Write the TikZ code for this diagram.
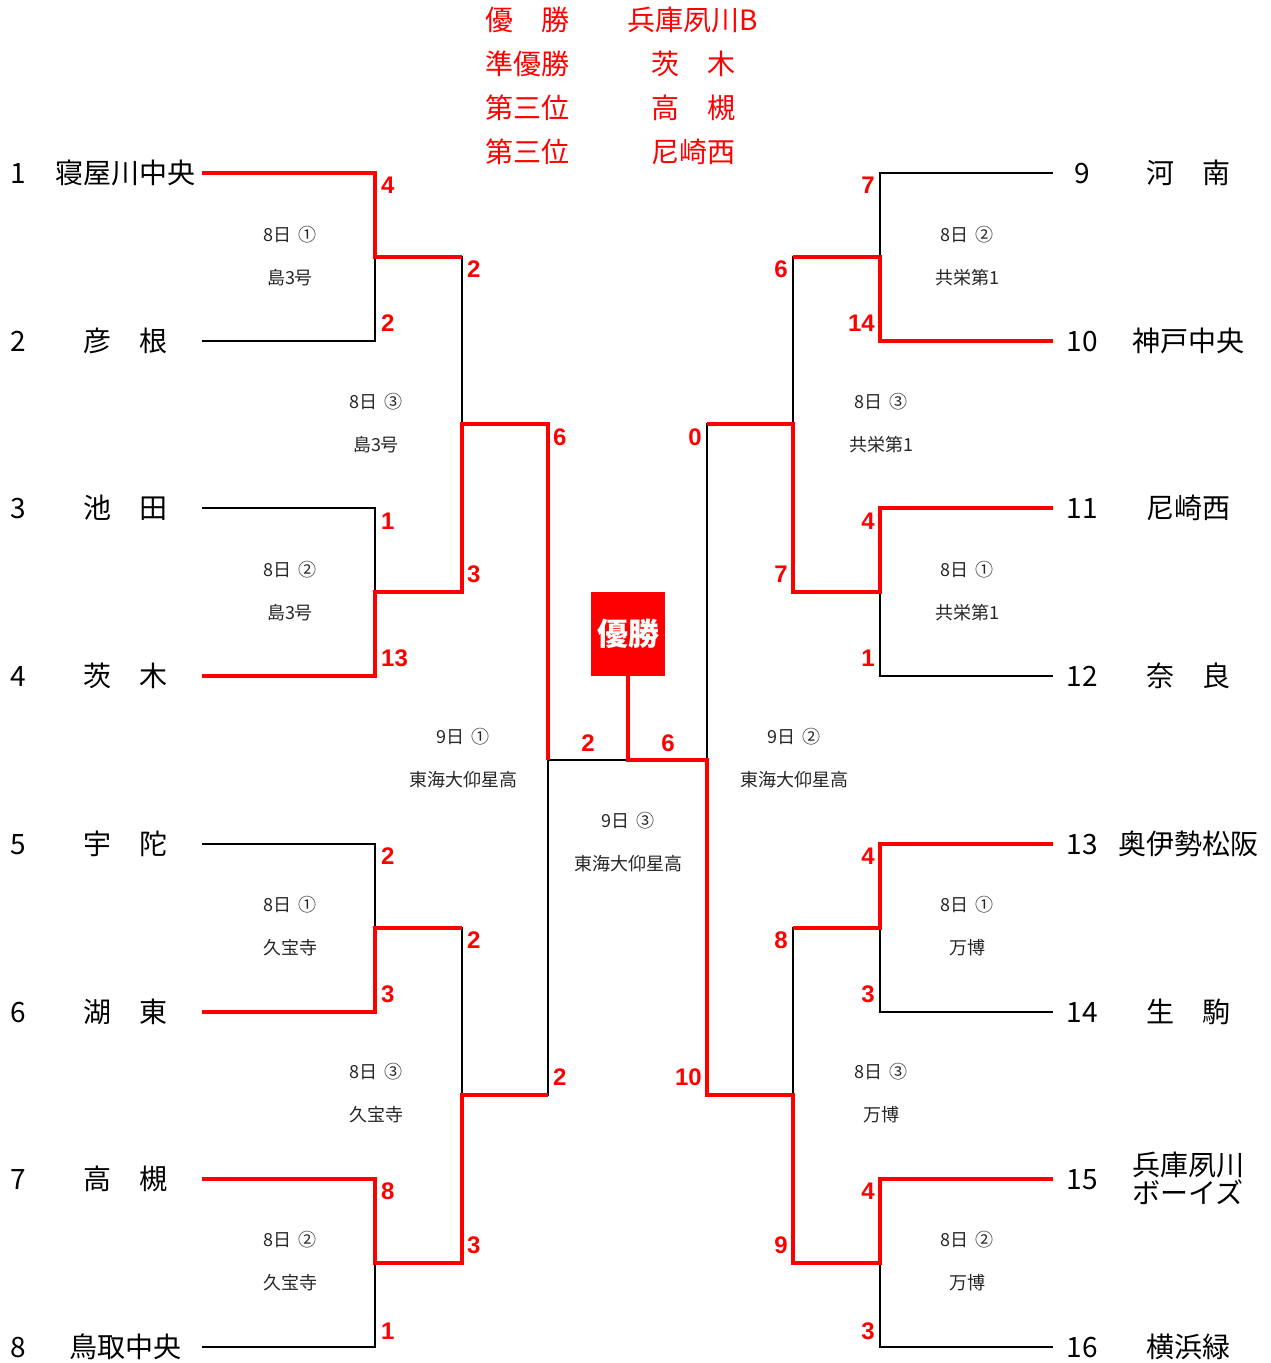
\documentclass[tikz,border=0pt]{standalone}
\usepackage{fontspec}
\setmainfont{Noto Sans CJK JP}
\newfontfamily\scoreFont{Liberation Sans}
\usetikzlibrary{positioning}
\definecolor{winColor}{RGB}{255,0,0}
\tikzstyle{bracket} = [x = 1pt, y = -1pt]
\tikzstyle{loserLine} = [color=black, line width=2pt]
\tikzstyle{winnerLine} = [color=winColor, line width=3.6pt]
\tikzstyle{teamText} = [font=\fontsize{28}{28}\selectfont, inner sep=0, text height=24.6pt, text depth=3.4pt]
\tikzstyle{resultText} = [teamText, color=winColor]
\tikzstyle{matchText} = [font=\fontsize{18}{18}\selectfont, color=black!85, inner sep=0, text height=15.8pt, text depth=2.2pt]
\tikzstyle{scoreText} = [font=\scoreFont\bfseries\fontsize{24}{24}\selectfont, color=winColor, inner sep=0, text height=17.2pt, text depth=0pt]
\tikzstyle{championBox} = [fill=winColor, text=white, inner sep=0, minimum width=74pt, minimum height=84pt, font=\bfseries\fontsize{31}{31}\selectfont]
\newcommand{\teamLeft}[3]{
  \node [teamText] (number#1) at (18,#2) {#1};
  \node [teamText] (team#1) at (125,#2) {#3};
  \coordinate (end#1) at (202,#2);
}
\newcommand{\teamRight}[3]{
  \node [teamText] (number#1) at (1082,#2) {#1};
  \node [teamText] (team#1) at (1188,#2) {#3};
  \coordinate (end#1) at (1053,#2);
}
\newcommand{\matchLabel}[5]{
  \node [matchText] (day#1) at (#2,#3) {#4};
  \node [matchText] (venue#1) at (#2,#3+43) {#5};
}
\newcommand{\dayNo}[2]{#1日\hspace{.35em}#2}
\newcommand{\scoreLeft}[4]{\node [scoreText, anchor=west] (score#1) at (#2,#3) {#4};}
\newcommand{\scoreRight}[4]{\node [scoreText, anchor=east] (score#1) at (#2,#3) {#4};}

\begin{document}
\begin{tikzpicture}[bracket]
  \useasboundingbox (0,0) rectangle (1270,1363);

  % final standings
  \node [resultText] (titleFirst) at (527,20) {優　勝};
  \node [resultText] (titleSecond) at (527,64) {準優勝};
  \node [resultText] (titleThirdA) at (527,108) {第三位};
  \node [resultText] (titleThirdB) at (527,152) {第三位};
  \node [resultText] (rankFirst) at (693,20) {兵庫夙川B};
  \node [resultText] (rankSecond) at (693,64) {茨　木};
  \node [resultText] (rankThirdA) at (693,108) {高　槻};
  \node [resultText] (rankThirdB) at (693,152) {尼崎西};

  % teams
  \teamLeft{1}{173}{寝屋川中央}
  \teamLeft{2}{341}{彦　根}
  \teamLeft{3}{508}{池　田}
  \teamLeft{4}{676}{茨　木}
  \teamLeft{5}{844}{宇　陀}
  \teamLeft{6}{1012}{湖　東}
  \teamLeft{7}{1179}{高　槻}
  \teamLeft{8}{1347}{鳥取中央}
  \teamRight{9}{173}{河　南}
  \teamRight{10}{341}{神戸中央}
  \teamRight{11}{508}{尼崎西}
  \teamRight{12}{676}{奈　良}
  \teamRight{13}{844}{奥伊勢松阪}
  \teamRight{14}{1012}{生　駒}
  \node [teamText] (number15) at (1082,1179) {15};
  \node [teamText] (team15) at (1188,1165) {兵庫夙川};
  \node [teamText] (team15b) at (1188,1193) {ボーイズ};
  \coordinate (end15) at (1053,1179);
  \teamRight{16}{1347}{横浜緑}

  % junctions
  \coordinate (q1) at (375,257);
  \coordinate (q2) at (375,592);
  \coordinate (q3) at (375,928);
  \coordinate (q4) at (375,1263);
  \coordinate (s1) at (462,424);
  \coordinate (s2) at (462,1095);
  \coordinate (f1) at (548,760);
  \coordinate (q5) at (880,257);
  \coordinate (q6) at (880,592);
  \coordinate (q7) at (880,928);
  \coordinate (q8) at (880,1263);
  \coordinate (s3) at (793,424);
  \coordinate (s4) at (793,1095);
  \coordinate (f2) at (707,760);

  \node [championBox] (champion) at (628,634) {優勝};
  \coordinate (c) at (champion.south |- f1);

  % bracket
  \draw [loserLine] (end1) -| (q1) |- (end2);
  \draw [loserLine] (end3) -| (q2) |- (end4);
  \draw [loserLine] (end5) -| (q3) |- (end6);
  \draw [loserLine] (end7) -| (q4) |- (end8);
  \draw [loserLine] (end9) -| (q5) |- (end10);
  \draw [loserLine] (end11) -| (q6) |- (end12);
  \draw [loserLine] (end13) -| (q7) |- (end14);
  \draw [loserLine] (end15) -| (q8) |- (end16);
  \draw [loserLine] (q1) -| (s1) |- (q2);
  \draw [loserLine] (q3) -| (s2) |- (q4);
  \draw [loserLine] (q5) -| (s3) |- (q6);
  \draw [loserLine] (q7) -| (s4) |- (q8);
  \draw [loserLine] (s1) -| (f1) |- (s2);
  \draw [loserLine] (s3) -| (f2) |- (s4);
  \draw [loserLine] (f1) -- (f2);

  % winners
  \draw [winnerLine] (end1) -| (q1) -- (q1 -| s1);
  \draw [winnerLine] (end4) -| (q2) -- (q2 -| s1) |- (s1 -| f1) -- (f1);
  \draw [winnerLine] (end6) -| (q3) -- (q3 -| s2);
  \draw [winnerLine] (end7) -| (q4) -- (q4 -| s2) |- (s2 -| f1);
  \draw [winnerLine] (end10) -| (q5) -- (q5 -| s3);
  \draw [winnerLine] (end11) -| (q6) -- (q6 -| s3) |- (s3 -| f2);
  \draw [winnerLine] (end13) -| (q7) -- (q7 -| s4);
  \draw [winnerLine] (end15) -| (q8) -- (q8 -| s4) |- (s4 -| f2) -- (f2) -- (c) -- (champion.south);

  % match labels
  \matchLabel{A}{290}{235}{\dayNo{8}{①}}{島3号}
  \matchLabel{B}{290}{570}{\dayNo{8}{②}}{島3号}
  \matchLabel{C}{290}{905}{\dayNo{8}{①}}{久宝寺}
  \matchLabel{D}{290}{1240}{\dayNo{8}{②}}{久宝寺}
  \matchLabel{E}{376}{402}{\dayNo{8}{③}}{島3号}
  \matchLabel{F}{376}{1072}{\dayNo{8}{③}}{久宝寺}
  \matchLabel{G}{463}{737}{\dayNo{9}{①}}{東海大仰星高}
  \matchLabel{H}{628}{821}{\dayNo{9}{③}}{東海大仰星高}
  \matchLabel{I}{794}{737}{\dayNo{9}{②}}{東海大仰星高}
  \matchLabel{J}{881}{402}{\dayNo{8}{③}}{共栄第1}
  \matchLabel{K}{881}{1072}{\dayNo{8}{③}}{万博}
  \matchLabel{L}{967}{235}{\dayNo{8}{②}}{共栄第1}
  \matchLabel{M}{967}{570}{\dayNo{8}{①}}{共栄第1}
  \matchLabel{N}{967}{905}{\dayNo{8}{①}}{万博}
  \matchLabel{O}{967}{1240}{\dayNo{8}{②}}{万博}

  % scores
  \scoreLeft{1}{381}{185}{4}
  \scoreLeft{2}{381}{323}{2}
  \scoreLeft{3}{381}{521}{1}
  \scoreLeft{4}{381}{658}{13}
  \scoreLeft{5}{381}{856}{2}
  \scoreLeft{6}{381}{994}{3}
  \scoreLeft{7}{381}{1191}{8}
  \scoreLeft{8}{381}{1331}{1}
  \scoreLeft{A}{467}{269}{2}
  \scoreLeft{B}{467}{574}{3}
  \scoreLeft{C}{467}{940}{2}
  \scoreLeft{D}{467}{1245}{3}
  \scoreLeft{E}{553}{437}{6}
  \scoreLeft{F}{553}{1077}{2}
  \node [scoreText] (scoreG) at (588,743) {2};
  \node [scoreText] (scoreH) at (668,743) {6};
  \scoreRight{I}{702}{437}{0}
  \scoreRight{J}{702}{1077}{10}
  \scoreRight{K}{788}{269}{6}
  \scoreRight{L}{788}{574}{7}
  \scoreRight{M}{788}{940}{8}
  \scoreRight{N}{788}{1245}{9}
  \scoreRight{9}{875}{185}{7}
  \scoreRight{10}{875}{323}{14}
  \scoreRight{11}{875}{521}{4}
  \scoreRight{12}{875}{658}{1}
  \scoreRight{13}{875}{856}{4}
  \scoreRight{14}{875}{994}{3}
  \scoreRight{15}{875}{1191}{4}
  \scoreRight{16}{875}{1331}{3}
\end{tikzpicture}
\end{document}
